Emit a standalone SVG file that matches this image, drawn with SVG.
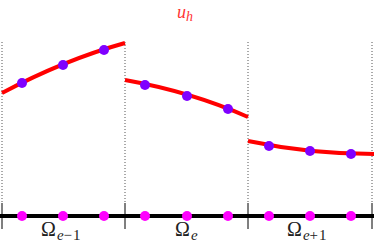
<svg xmlns="http://www.w3.org/2000/svg" width="374" height="246" viewBox="0 0 374 246">
<style>
.grid{stroke:#555;stroke-width:1;stroke-dasharray:1 2;fill:none}
.tick{stroke:#000;stroke-width:1}
.curve{stroke:#ff0000;stroke-width:4;fill:none;stroke-linecap:butt}
.pt{fill:#7f00ff}
.np{fill:#ff00ff}
text{font-family:'Liberation Serif','DejaVu Serif',serif}
.lbl{font-size:20px;fill:#222}
.sub{font-size:15px;font-style:italic}
.num{font-size:15px;font-style:normal;letter-spacing:1px}
</style>
<rect width="374" height="246" fill="#fff"/>
<g id="grid">
<line class="grid" x1="2" y1="42" x2="2" y2="203"/>
<line class="grid" x1="125" y1="42" x2="125" y2="203"/>
<line class="grid" x1="248" y1="42" x2="248" y2="203"/>
<line class="grid" x1="372" y1="42" x2="372" y2="203"/>
</g>
<g id="connectors">
<line x1="0" y1="216" x2="374" y2="216" stroke="#000" stroke-width="4"/>
<line class="tick" x1="2" y1="203" x2="2" y2="229"/>
<line class="tick" x1="125" y1="203" x2="125" y2="229"/>
<line class="tick" x1="248" y1="203" x2="248" y2="229"/>
<line class="tick" x1="372" y1="203" x2="372" y2="229"/>
<path class="curve" d="M2,93 Q64,60 125,43"/>
<path class="curve" d="M125,80 Q192,92 248,117"/>
<path class="curve" d="M248,141 Q310,154 374,154"/>
</g>
<g id="element1">
<circle class="pt" cx="22" cy="83" r="5"/>
<circle class="pt" cx="63" cy="65" r="5"/>
<circle class="pt" cx="104" cy="50" r="5"/>
<circle class="np" cx="22" cy="216" r="5"/>
<circle class="np" cx="63" cy="216" r="5"/>
<circle class="np" cx="104" cy="216" r="5"/>
<text x="41" y="236" class="lbl">Ω<tspan class="sub" dy="4" dx="1">e</tspan><tspan class="num">−1</tspan></text>
</g>
<g id="element2">
<circle class="pt" cx="145" cy="85" r="5"/>
<circle class="pt" cx="187" cy="96" r="5"/>
<circle class="pt" cx="228" cy="109" r="5"/>
<circle class="np" cx="145" cy="216" r="5"/>
<circle class="np" cx="187" cy="216" r="5"/>
<circle class="np" cx="228" cy="216" r="5"/>
<text x="175" y="236" class="lbl">Ω<tspan class="sub" dy="4" dx="1">e</tspan></text>
</g>
<g id="element3">
<circle class="pt" cx="269" cy="146" r="5"/>
<circle class="pt" cx="310" cy="151" r="5"/>
<circle class="pt" cx="351" cy="154" r="5"/>
<circle class="np" cx="269" cy="216" r="5"/>
<circle class="np" cx="310" cy="216" r="5"/>
<circle class="np" cx="351" cy="216" r="5"/>
<text x="287" y="236" class="lbl">Ω<tspan class="sub" dy="4" dx="1">e</tspan><tspan class="num">+1</tspan></text>
</g>
<g id="title">
<text x="177" y="18" font-size="18" font-style="italic" fill="#ff3333">u<tspan font-size="14" dy="3">h</tspan></text>
</g>
</svg>
